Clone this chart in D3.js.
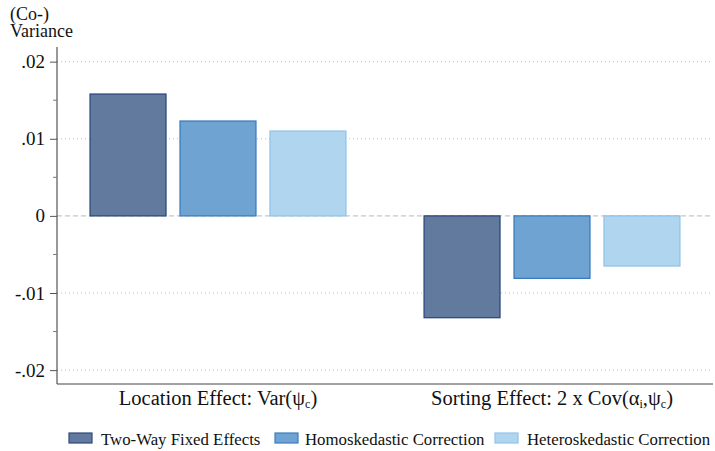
<!DOCTYPE html>
<html>
<head>
<meta charset="utf-8">
<script src="https://cdn.jsdelivr.net/npm/d3@7"></script>
<style>
  body { margin: 0; background: #fff; }
</style>
</head>
<body>
<svg id="chart" width="715" height="451"></svg>
<script>
// data
const categories = ['location', 'sorting'];
const seriesNames = ['Two-Way Fixed Effects', 'Homoskedastic Correction', 'Heteroskedastic Correction'];
const twoWayFE = [0.0158, -0.0132];
const homoCorr = [0.0123, -0.0081];
const heteroCorr = [0.0110, -0.0065];
const yTicks = [0.02, 0.01, 0, -0.01, -0.02];
const yTickLabels = ['.02', '.01', '0', '-.01', '-.02'];
const yMinorTicks = [0.015, 0.005, -0.005, -0.015];

const series = [twoWayFE, homoCorr, heteroCorr];
const fills = ['#627a9e', '#6fa3d2', '#b0d6ef'];
const strokes = ['#2d4a7c', '#3a7cc0', '#90c4e9'];
const serif = '"Liberation Serif"';

const svg = d3.select('#chart');
const margin = { left: 57, top: 47, right: 2, bottom: 67 };
const width = 715, height = 451;
const innerWidth = width - margin.left - margin.right;
const innerHeight = height - margin.top - margin.bottom;

const g = svg.append('g').attr('transform', `translate(${margin.left},${margin.top})`);

const yScale = d3.scaleLinear().domain([-0.0218, 0.0219]).range([innerHeight, 0]);
const xScale = d3.scaleBand().domain(categories).range([0, innerWidth]).paddingInner(0.234).paddingOuter(0.099);
const subScale = d3.scaleBand().domain(d3.range(3)).range([0, xScale.bandwidth()]).paddingInner(0.156).paddingOuter(0);

// gridlines
g.selectAll('.grid')
  .data(yTicks.filter(d => d !== 0))
  .enter().append('line')
  .attr('x1', 0).attr('x2', innerWidth)
  .attr('y1', d => yScale(d)).attr('y2', d => yScale(d))
  .attr('stroke', '#bbb').attr('stroke-width', 1)
  .attr('stroke-dasharray', '1,3');

// zero line
g.append('line')
  .attr('x1', 0).attr('x2', innerWidth)
  .attr('y1', yScale(0)).attr('y2', yScale(0))
  .attr('stroke', '#c8c8c8').attr('stroke-width', 1.2)
  .attr('stroke-dasharray', '5,3');

// bars
series.forEach((vals, si) => {
  g.selectAll('.bar' + si)
    .data(vals)
    .enter().append('rect')
    .attr('x', (d, i) => xScale(categories[i]) + subScale(si))
    .attr('y', d => yScale(Math.max(0, d)))
    .attr('width', subScale.bandwidth())
    .attr('height', d => Math.abs(yScale(d) - yScale(0)))
    .attr('fill', fills[si])
    .attr('stroke', strokes[si])
    .attr('stroke-width', 1.3);
});

// y axis
const yAxis = g.append('g')
  .call(d3.axisLeft(yScale).tickValues(yTicks).tickSize(7).tickPadding(5)
    .tickFormat((d, i) => yTickLabels[i]));
yAxis.attr('font-family', null).attr('font-size', null);
yAxis.select('.domain').attr('stroke', '#333').attr('d', `M0,0V${innerHeight}`);
yAxis.selectAll('.tick line').attr('stroke', '#555');
yAxis.selectAll('.tick text')
  .style('font-family', serif).style('font-size', '19px').attr('fill', '#111');

g.selectAll('.minor')
  .data(yMinorTicks)
  .enter().append('line')
  .attr('x1', -4).attr('x2', 0)
  .attr('y1', d => yScale(d)).attr('y2', d => yScale(d))
  .attr('stroke', '#777');

// x axis line
g.append('line')
  .attr('x1', 0).attr('x2', innerWidth)
  .attr('y1', innerHeight).attr('y2', innerHeight)
  .attr('stroke', '#444').attr('stroke-width', 1);

// category labels
function catLabel(cat, parts) {
  const t = g.append('text')
    .attr('x', xScale(cat) + xScale.bandwidth() / 2)
    .attr('y', innerHeight + 24)
    .attr('text-anchor', 'middle')
    .attr('fill', '#111')
    .style('font-family', serif).style('font-size', '20.5px');
  parts.forEach(([txt, sub]) => {
    if (sub) t.append('tspan').style('font-size', '12px').attr('dy', 3).text(txt);
    else t.append('tspan').attr('dy', t.selectAll('tspan').size() ? -3 : 0).text(txt);
  });
}
catLabel('location', [['Location Effect: Var(\u03C8'], ['c', true], [')']]);
catLabel('sorting', [['Sorting Effect: 2 x Cov(\u03B1'], ['i', true], [',\u03C8'], ['c', true], [')']]);

// y title
svg.append('text').attr('x', 10).attr('y', 20).attr('fill', '#111')
  .style('font-family', serif).style('font-size', '18px').text('(Co-)');
svg.append('text').attr('x', 10).attr('y', 37).attr('fill', '#111')
  .style('font-family', serif).style('font-size', '18px').text('Variance');

// legend
const legendSwatchX = [69, 275, 495];
const legendTextX = [101, 305, 527];
const legend = svg.append('g');
seriesNames.forEach((name, i) => {
  legend.append('rect')
    .attr('x', legendSwatchX[i]).attr('y', 433)
    .attr('width', 23).attr('height', 10)
    .attr('fill', fills[i]).attr('stroke', strokes[i]).attr('stroke-width', 1.2);
  legend.append('text')
    .attr('x', legendTextX[i]).attr('y', 445)
    .attr('fill', '#111')
    .style('font-family', serif).style('font-size', '16.8px')
    .text(name);
});
</script>
</body>
</html>
